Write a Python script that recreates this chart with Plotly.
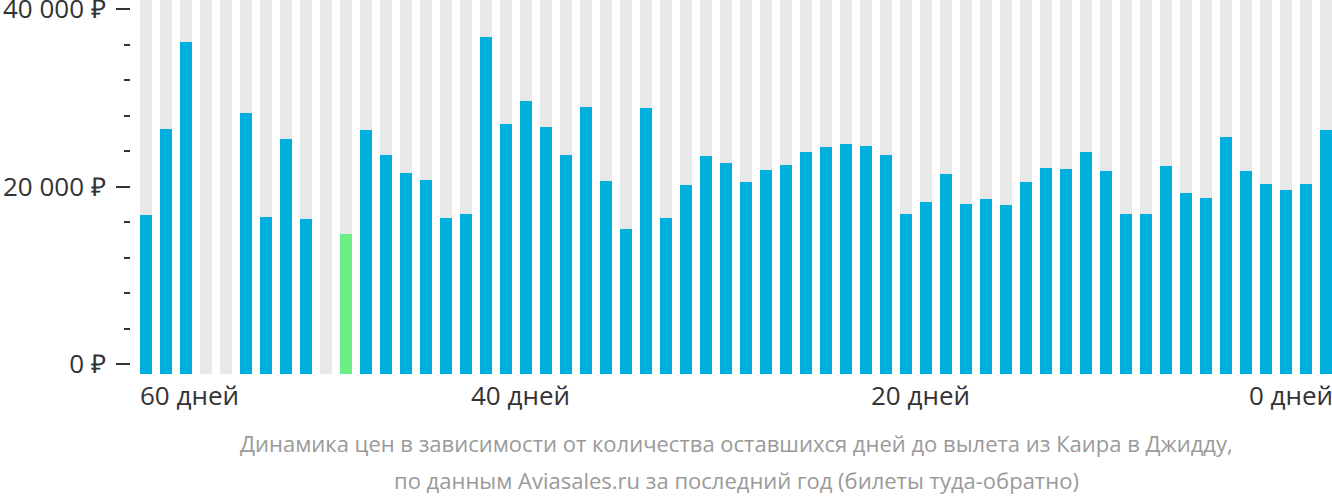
import plotly.graph_objects as go

# days left before departure, left to right
days = list(range(59, -1, -1))

# cheapest round-trip price per day (None = no data)
prices = [
    16800, 26480, 36280, None, None, 28280, 16580, 25360, 16350, None,
    14670, 26370, 23560, 21530, 20740, 16470, 16920, 36840, 27050, 29630,
    26710, 23560, 28960, 20630, 15230, 28850, 16470, 20180, 23440, 22660,
    20520, 21870, 22430, 23890, 24460, 24790, 24570, 23560, 16920, 18270,
    21420, 18040, 18600, 17930, 20520, 22090, 21980, 23890, 21760, 16920,
    16920, 22320, 19280, 18720, 25580, 21760, 20290, 19620, 20290, 26370,
]

y_ticks = [0, 20000, 40000]
y_ticktext = ["0 ₽", "20 000 ₽", "40 000 ₽"]
x_labels = [(60, "60 дней"), (40, "40 дней"), (20, "20 дней"), (0, "0 дней")]
caption = [
    "Динамика цен в зависимости от количества оставшихся дней до вылета из Каира в Джидду,",
    "по данным Aviasales.ru за последний год (билеты туда-обратно)",
]

BLUE = "#00b0dc"
GREEN = "#6ced85"
GRAY = "#e8e8e8"

y_min, y_max = -1092, 41013

cheapest = min(p for p in prices if p is not None)
colors = [GREEN if p == cheapest else BLUE for p in prices]

fig = go.Figure()
# grey background columns
fig.add_trace(go.Bar(
    x=days, y=[y_max - y_min] * len(days), base=y_min,
    width=0.6, marker=dict(color=GRAY, line=dict(width=0)),
    hoverinfo="skip",
))
fig.add_trace(go.Bar(
    x=days, y=[None if p is None else p - y_min for p in prices], base=y_min,
    width=0.6, marker=dict(color=colors, line=dict(width=0)),
    customdata=prices, hovertemplate="%{customdata} ₽<extra></extra>",
))

annotations = []
for d, txt in x_labels:
    if d == 60:
        x, anchor = 59.3, "left"
    elif d == 0:
        x, anchor = -0.3, "right"
    else:
        x, anchor = d + 0.3, "center"
    annotations.append(dict(
        x=x, y=0, xref="x", yref="paper", xanchor=anchor, yanchor="top",
        yshift=-1, xshift=(-2 if anchor == "left" else (3 if anchor == "right" else 0)),
        text=txt, showarrow=False,
        font=dict(size=26, color="#333333"),
    ))
for i, line in enumerate(caption):
    annotations.append(dict(
        x=0.5, y=0, xref="x domain", yref="paper", xanchor="center", yanchor="middle",
        yshift=-(443 - 374) - 37 * i, text=line, showarrow=False,
        font=dict(size=22, color="#9a9a9a"),
    ))

fig.update_layout(
    width=1332, height=502,
    margin=dict(l=130, r=0, t=0, b=128, autoexpand=False),
    paper_bgcolor="white", plot_bgcolor="white",
    barmode="overlay", showlegend=False, bargap=0,
    font=dict(family="Open Sans", size=26, color="#333333"),
    annotations=annotations,
    xaxis=dict(
        range=[59.3, -0.3], domain=[10 / 1202, 1], automargin=False,
        showgrid=False, zeroline=False, showticklabels=False, ticks="",
    ),
    yaxis=dict(
        range=[y_min, y_max], anchor="free", position=0, automargin=False,
        tickmode="array", tickvals=y_ticks, ticktext=y_ticktext,
        ticks="outside", ticklen=14, tickwidth=2, tickcolor="#333333",
        ticklabelstandoff=5, ticklabeloverflow="allow",
        minor=dict(dtick=4000, tick0=0, ticks="outside", ticklen=6,
                   tickwidth=2, tickcolor="#333333"),
        showgrid=False, zeroline=False, showline=False,
        tickfont=dict(size=26, color="#333333"),
    ),
)

# browser default body margin would shift the chart by 8px
fig.write_html(
    "out.html",
    config={"displayModeBar": False},
    post_script="document.body.style.margin='0';document.body.style.overflow='hidden';",
)
